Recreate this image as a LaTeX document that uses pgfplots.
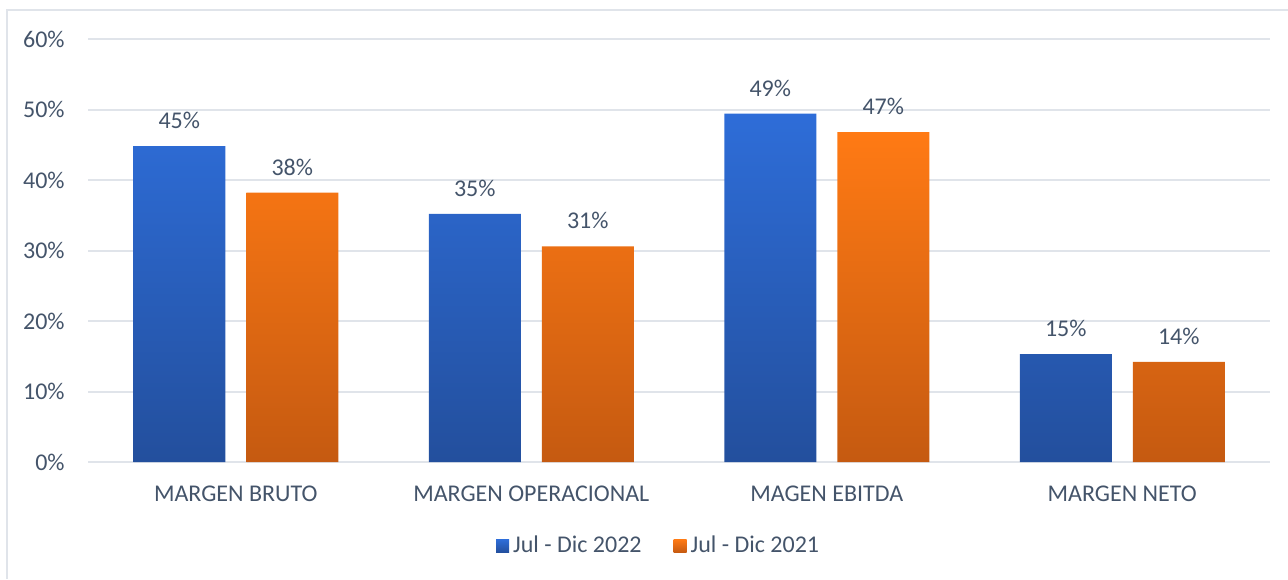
\documentclass[border=0pt]{standalone}
\usepackage{fontspec}
\setmainfont{Carlito}
\usepackage{pgfplots}
\pgfplotsset{compat=1.18}
\definecolor{txt}{HTML}{44546A}
\definecolor{gridc}{HTML}{E0E4EA}
\definecolor{btop}{HTML}{2E6DD8}
\definecolor{bbot}{HTML}{234F9D}
\definecolor{otop}{HTML}{FF7A14}
\definecolor{obot}{HTML}{C55A11}
\begin{document}
\begin{tikzpicture}
\useasboundingbox (0,0) rectangle (644pt,289.5pt);
\draw[color=gridc, line width=1pt] (3.5pt,0) -- (3.5pt,284.5pt) -- (644pt,284.5pt);
\begin{axis}[
  at={(44pt,58.5pt)}, anchor=south west,
  scale only axis, width=591pt, height=211.5pt,
  xmin=-0.5, xmax=3.5, ymin=0, ymax=60,
  ytick={0,10,...,60},
  yticklabel={\pgfmathprintnumber{\tick}\%},
  xtick={0,1,2,3},
  xticklabels={MARGEN BRUTO, MARGEN OPERACIONAL, MAGEN EBITDA, MARGEN NETO},
  axis line style={draw=none},
  major tick length=0pt,
  ymajorgrids, grid style={color=gridc, line width=1pt},
  /pgf/number format/assume math mode=true,
  tick label style={font=\fontsize{12}{14}\selectfont, color=txt, inner sep=0pt},
  yticklabel style={anchor=east, xshift=-11.5pt},
  xticklabel style={anchor=north, yshift=-12pt},
  ybar, bar width=46pt,
  nodes near coords={\pgfmathprintnumber[fixed,precision=0]{\pgfplotspointmeta}\%},
  every node near coord/.append style={font=\fontsize{12}{14}\selectfont, color=txt, inner sep=0pt, anchor=south, yshift=8.5pt},
  legend style={at={(0.345,-0.1986)}, anchor=west, draw=none, fill=none,
    font=\fontsize{12}{14}\selectfont, text=txt, inner sep=0pt,
    /tikz/every even column/.append style={column sep=14pt}},
  legend columns=2,
]
\addplot[draw=none, top color=btop, bottom color=bbot, bar shift=-28.25pt,
  legend image code/.code={\shade[top color=btop,bottom color=bbot] (0pt,-3.25pt) rectangle (6.5pt,3.25pt);}]
  coordinates {(0,44.8) (1,35.2) (2,49.4) (3,15.3)};
\addplot[draw=none, top color=otop, bottom color=obot, bar shift=28.25pt,
  legend image code/.code={\shade[top color=otop,bottom color=obot] (0pt,-3.25pt) rectangle (6.5pt,3.25pt);}]
  coordinates {(0,38.2) (1,30.6) (2,46.8) (3,14.2)};
\legend{Jul - Dic 2022, Jul - Dic 2021}
\end{axis}
\end{tikzpicture}
\end{document}
